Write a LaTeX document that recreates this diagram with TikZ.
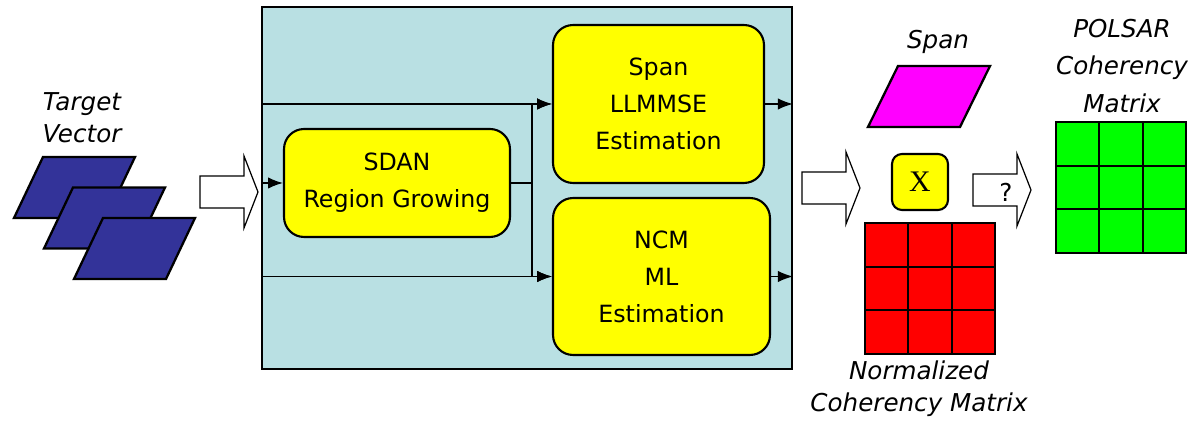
\documentclass[tikz,border=0pt]{standalone}
\usepackage{fontspec}
\setmainfont{DejaVu Sans}
\newfontfamily\timesx{Liberation Serif}
\usetikzlibrary{positioning,arrows.meta}

\definecolor{panelblue}{RGB}{185,224,227}
\definecolor{vecblue}{RGB}{51,51,153}
\definecolor{boxyellow}{RGB}{255,255,0}
\definecolor{spanpink}{RGB}{255,0,255}
\definecolor{cellred}{RGB}{255,0,0}
\definecolor{cellgreen}{RGB}{0,255,0}

\tikzset{
    stagebox/.style = {draw, line width=1.2pt, fill=boxyellow, rounded corners=0.4cm,
                       align=center, font=\fontsize{13.5}{21}\selectfont},
    italabel/.style = {align=center, font=\fontsize{14}{18}\selectfont\itshape},
    bigarrow/.style = {draw, fill=white, line width=0.7pt},
    plate/.style    = {draw, line width=1.3pt, line join=miter},
    flow/.style     = {line width=0.8pt},
    tip/.style      = {-{Latex[length=8.5pt,width=6.5pt]}}
}

\begin{document}
\begin{tikzpicture}[x=0.02cm, y=-0.02cm]
        \useasboundingbox (0,0) rectangle (1199,428);
        % processing panel
        \node[draw, line width=1pt, fill=panelblue, minimum width=10.6cm, minimum height=7.24cm] (panel) at (527,188) {};
        \node[stagebox, minimum width=4.52cm, minimum height=2.16cm] (sdan) at (397,183) {SDAN\\Region Growing};
        \node[stagebox, minimum width=4.22cm, minimum height=3.16cm] (span) at (658.5,104) {Span\\LLMMSE\\Estimation};
        \node[stagebox, minimum width=4.34cm, minimum height=3.14cm] (ncm) at (661.5,276.5) {NCM\\ML\\Estimation};
        \draw[flow] (sdan.east) -- ++(21,0) coordinate (split);
        \draw[flow,tip] (panel.west |- sdan.west) -- (sdan.west);
        \draw[flow,tip] (panel.west |- span.west) -- (span.west);
        \draw[flow,tip] (panel.west |- ncm.west) -- (ncm.west);
        \draw[flow,tip] (split) |- (span.west);
        \draw[flow,tip] (split) |- (ncm.west);
        \draw[flow,tip] (span.east) -- (span.east -| panel.east);
        \draw[flow,tip] (ncm.east) -- (ncm.east -| panel.east);
        % target vector
        \node[italabel] (target) at (82,118) {Target\\Vector};
        \foreach \i in {0,1,2}
            \draw[plate, fill=vecblue] (43+30*\i,157+30.5*\i) -- ++(92,0) -- ++(-29,61) -- ++(-92,0) -- cycle;
        % block arrows
        \foreach \ax/\ay in {200/192, 802/188, 973/190}
            \draw[bigarrow] (\ax,\ay-16) -- ++(44,0) -- ++(0,-20) -- ++(14,36) -- ++(-14,36) -- ++(0,-20) -- ++(-44,0) -- cycle;
        \node[font=\fontsize{14}{16}\selectfont] (query) at (1006,192) {?};
        % span and normalized matrix
        \node[italabel] (spanlabel) at (938,42) {Span};
        \draw[plate, fill=spanpink] (898,66) -- ++(92,0) -- ++(-30,61) -- ++(-92,0) -- cycle;
        \node[draw, line width=1.2pt, fill=boxyellow, rounded corners=0.2cm, minimum width=1.12cm,
              minimum height=1.12cm, font=\timesx\fontsize{17}{17}\selectfont] (times) at (920,182) {X};
        \draw[line width=1pt, fill=cellred] (865,223) rectangle (995,354);
        \foreach \k in {1,2} {
            \draw[line width=1pt] (865+43.33*\k,223) -- (865+43.33*\k,354);
            \draw[line width=1pt] (865,223+43.67*\k) -- (995,223+43.67*\k);
        }
        \node[italabel] (normlabel) at (919,389) {Normalized\\Coherency Matrix};
        % polsar matrix
        \node[italabel, font=\fontsize{14}{21.5}\selectfont\itshape] (polsar) at (1122,66) {POLSAR\\Coherency\\Matrix};
        \draw[line width=1pt, fill=cellgreen] (1056,122) rectangle (1186,253);
        \foreach \k in {1,2} {
            \draw[line width=1pt] (1056+43.33*\k,122) -- (1056+43.33*\k,253);
            \draw[line width=1pt] (1056,122+43.67*\k) -- (1186,122+43.67*\k);
        }
\end{tikzpicture}
\end{document}
